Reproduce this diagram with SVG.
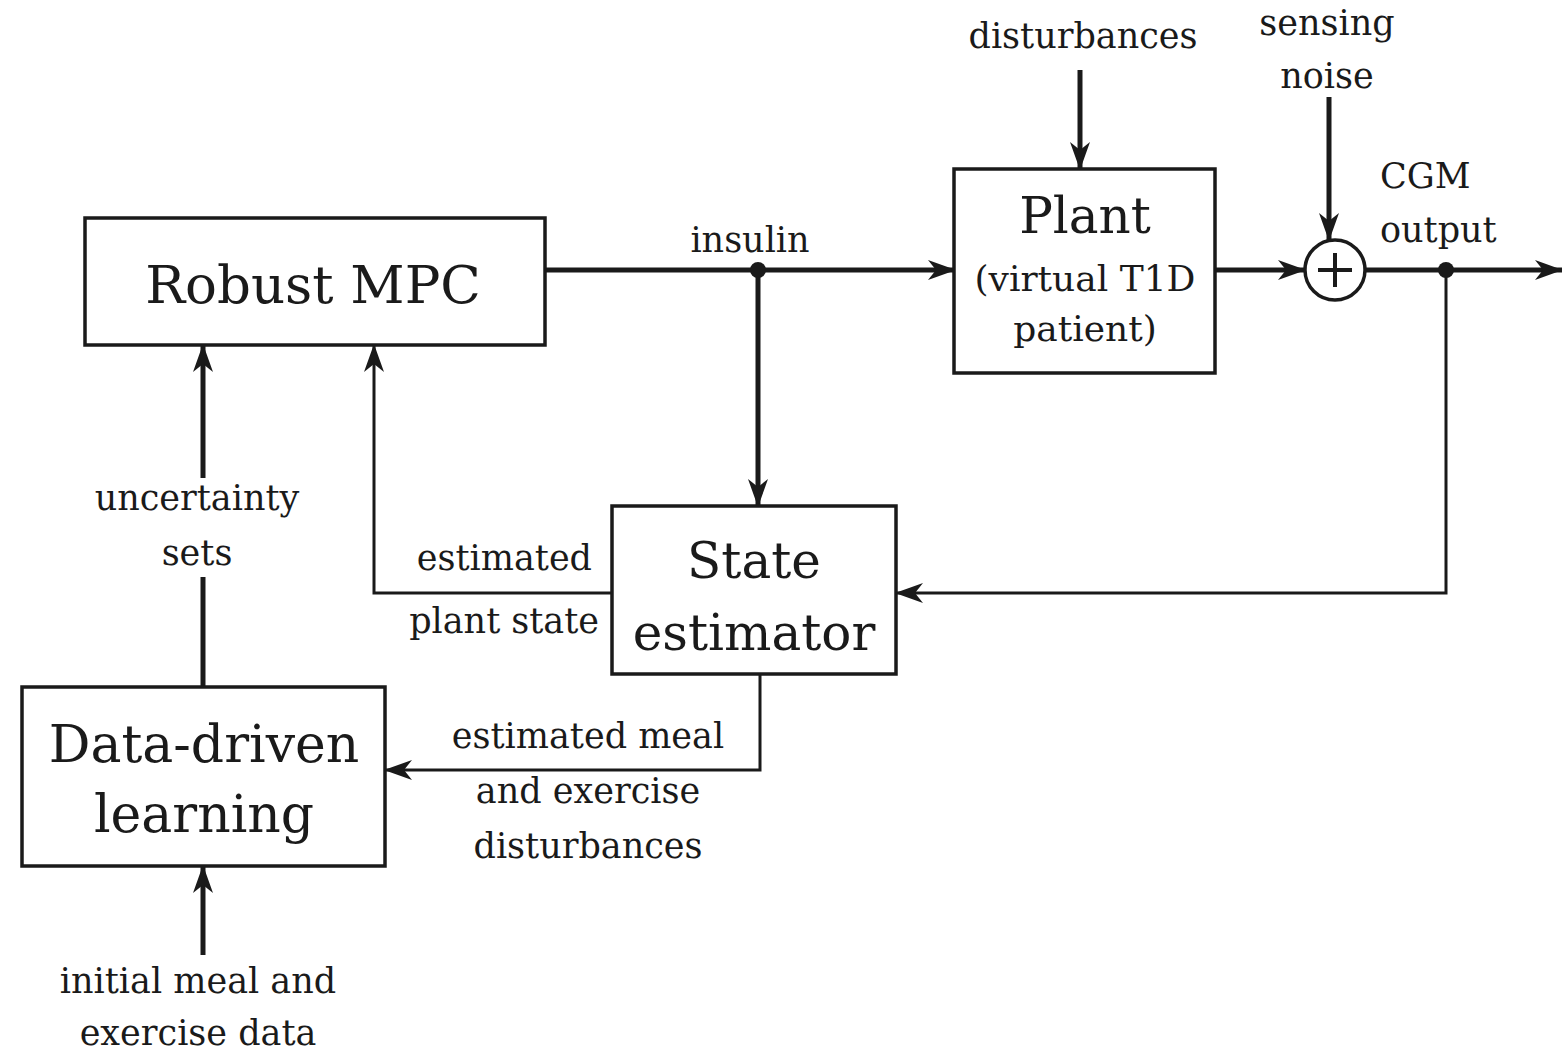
<svg xmlns="http://www.w3.org/2000/svg" width="1562" height="1057" viewBox="0 0 1562 1057">
<defs>
<marker id="ah" viewBox="0 0 28 20" refX="27" refY="10" markerWidth="28" markerHeight="20" markerUnits="userSpaceOnUse" orient="auto">
<path d="M0,0 L28,10 L0,20 L8,10 Z" fill="#1a1a1a"/>
</marker>
</defs>
<style>
.box{fill:#fff;stroke:#1a1a1a;stroke-width:3.5}
.big{font-family:"DejaVu Serif","Liberation Serif",serif;fill:#1a1a1a;text-anchor:middle}
.lbl{font-family:"DejaVu Serif","Liberation Serif",serif;font-size:35px;fill:#1a1a1a;text-anchor:middle}
.thick{fill:none;stroke:#1a1a1a;stroke-width:5}
.thin{fill:none;stroke:#1a1a1a;stroke-width:3}
</style>
<rect width="1562" height="1057" fill="#fff"/>
<g id="connectors">
<line class="thick" x1="545" y1="270" x2="955" y2="270" marker-end="url(#ah)"/>
<line class="thick" x1="758" y1="270" x2="758" y2="506" marker-end="url(#ah)"/>
<line class="thick" x1="1215" y1="270" x2="1305" y2="270" marker-end="url(#ah)"/>
<line class="thick" x1="1365" y1="270" x2="1562" y2="270" marker-end="url(#ah)"/>
<line class="thick" x1="1080" y1="70" x2="1080" y2="169" marker-end="url(#ah)"/>
<line class="thick" x1="1329" y1="97" x2="1329" y2="240" marker-end="url(#ah)"/>
<polyline class="thin" points="1446,270 1446,593 896,593" marker-end="url(#ah)"/>
<polyline class="thin" points="612,593 374,593 374,345" marker-end="url(#ah)"/>
<line class="thick" x1="203" y1="687" x2="203" y2="577"/>
<line class="thick" x1="203" y1="478" x2="203" y2="345" marker-end="url(#ah)"/>
<polyline class="thin" points="760,674 760,770 385,770" marker-end="url(#ah)"/>
<line class="thick" x1="203" y1="955" x2="203" y2="866" marker-end="url(#ah)"/>
<circle cx="758" cy="270" r="8" fill="#1a1a1a"/>
<circle cx="1446" cy="270" r="8" fill="#1a1a1a"/>
</g>
<g id="sum">
<circle cx="1335" cy="270" r="30" fill="#fff" stroke="#1a1a1a" stroke-width="3.5"/>
<path d="M1335,253 V287 M1318,270 H1352" stroke="#1a1a1a" stroke-width="4"/>
</g>
<g id="robust-mpc">
<rect class="box" x="85" y="218" width="460" height="127"/>
<text class="big" x="313" y="303" font-size="53">Robust MPC</text>
</g>
<g id="plant">
<rect class="box" x="954" y="169" width="261" height="204"/>
<text class="big" x="1085" y="233" font-size="50">Plant</text>
<text class="big" x="1085" y="291" font-size="36">(virtual T1D</text>
<text class="big" x="1085" y="341" font-size="36">patient)</text>
</g>
<g id="state-estimator">
<rect class="box" x="612" y="506" width="284" height="168"/>
<text class="big" x="754" y="578" font-size="50">State</text>
<text class="big" x="754" y="650" font-size="50">estimator</text>
</g>
<g id="data-driven-learning">
<rect class="box" x="22" y="687" width="363" height="179"/>
<text class="big" x="204" y="762" font-size="52">Data-driven</text>
<text class="big" x="204" y="832" font-size="52">learning</text>
</g>
<g id="labels">
<text class="lbl" x="750" y="252">insulin</text>
<text class="lbl" x="1083" y="48">disturbances</text>
<text class="lbl" x="1327" y="35">sensing</text>
<text class="lbl" x="1327" y="88">noise</text>
<text class="lbl" x="1380" y="188" style="text-anchor:start">CGM</text>
<text class="lbl" x="1380" y="242" style="text-anchor:start">output</text>
<text class="lbl" x="197" y="510">uncertainty</text>
<text class="lbl" x="197" y="565">sets</text>
<text class="lbl" x="592" y="570" style="text-anchor:end">estimated</text>
<text class="lbl" x="599" y="633" style="text-anchor:end">plant state</text>
<text class="lbl" x="588" y="748">estimated meal</text>
<text class="lbl" x="588" y="803">and exercise</text>
<text class="lbl" x="588" y="858">disturbances</text>
<text class="lbl" x="198" y="993">initial meal and</text>
<text class="lbl" x="198" y="1045">exercise data</text>
</g>
</svg>
